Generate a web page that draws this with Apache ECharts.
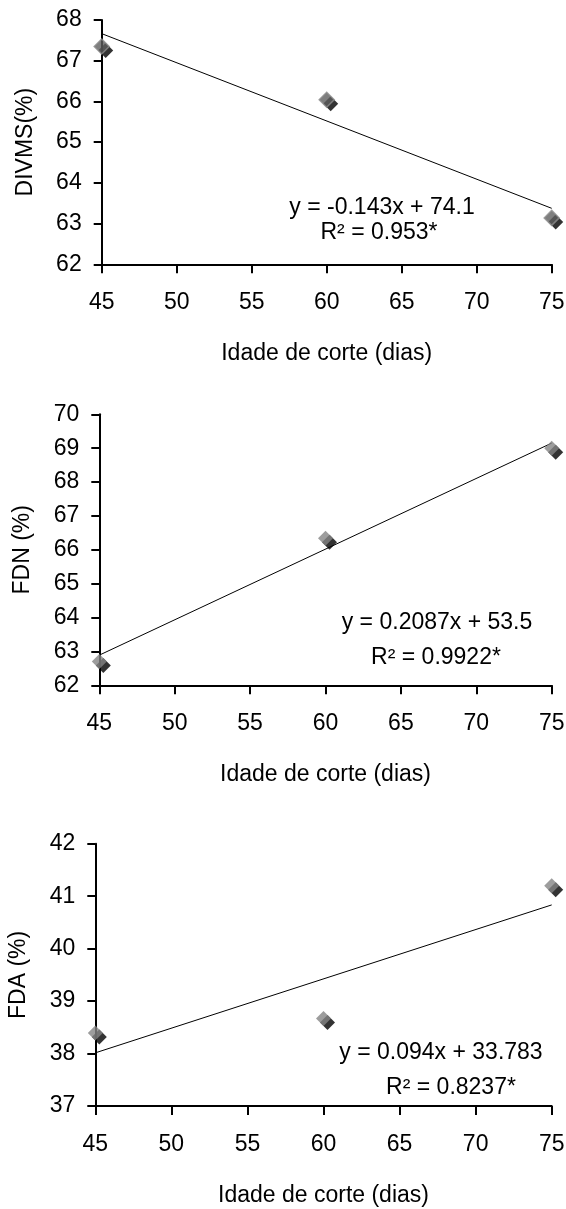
<!DOCTYPE html>
<html>
<head>
<meta charset="utf-8">
<script src="https://cdn.jsdelivr.net/npm/echarts@6/dist/echarts.min.js"></script>
<style>
  html, body { margin: 0; padding: 0; background: #fff; }
  #chart { width: 566px; height: 1209px; }
</style>
</head>
<body>
<div id="chart"></div>
<script>
// data
const days = [45, 60, 75];
const divms = [67.35, 66.04, 63.14];
const fdn = [62.70, 66.34, 69.0];
const fda = [38.39, 38.67, 41.20];

// trend line end points (x = 45 and x = 75)
const trendX = [45, 75];
const divmsTrend = [67.665, 63.375];
const fdnTrend = [62.89, 69.15];
const fdaTrend = [38.013, 40.833];

const yNames = ['DIVMS(%)', 'FDN (%)', 'FDA (%)'];
const yRanges = [[62, 68], [62, 70], [37, 42]];
const xName = 'Idade de corte (dias)';
const equations = [
    ['y = -0.143x + 74.1', 'R² = 0.953*'],
    ['y = 0.2087x + 53.5', 'R² = 0.9922*'],
    ['y = 0.094x + 33.783', 'R² = 0.8237*']
];

const font = 'Liberation Sans, Arial, sans-serif';
const fs = 23;
const values = [divms, fdn, fda];
const trends = [divmsTrend, fdnTrend, fdaTrend];

// panel boxes (px)
const grids = [
    { left: 101.7, top: 20, width: 450, height: 244.3 },
    { left: 99.3, top: 414.3, width: 452.4, height: 271 },
    { left: 95.3, top: 843.7, width: 456.4, height: 262.3 }
];

const chart = echarts.init(document.getElementById('chart'));

const xAxes = grids.map((g, i) => ({
    type: 'value',
    gridIndex: i,
    min: 45,
    max: 75,
    interval: 5,
    name: xName,
    nameLocation: 'middle',
    nameGap: 78,
    nameTextStyle: { color: '#000', fontSize: fs, fontFamily: font },
    axisLine: { onZero: false, lineStyle: { color: '#000', width: 2 } },
    axisTick: { length: 9, lineStyle: { color: '#000', width: 2 } },
    axisLabel: { color: '#000', fontSize: fs, fontFamily: font, margin: 27 },
    splitLine: { show: false }
}));

const yAxes = grids.map((g, i) => ({
    type: 'value',
    gridIndex: i,
    min: yRanges[i][0],
    max: yRanges[i][1],
    interval: 1,
    name: yNames[i],
    nameLocation: 'middle',
    nameGap: 65,
    nameTextStyle: { color: '#000', fontSize: fs, fontFamily: font },
    axisLine: { show: true, onZero: false, lineStyle: { color: '#000', width: 2 } },
    axisTick: { show: true, length: 8, lineStyle: { color: '#000', width: 2 } },
    axisLabel: { color: '#000', fontSize: fs, fontFamily: font, margin: 20 },
    splitLine: { show: false }
}));

const series = [];
values.forEach((vals, i) => {
    const pts = days.map((d, k) => [d, vals[k]]);
    series.push({
        type: 'line',
        xAxisIndex: i,
        yAxisIndex: i,
        data: trendX.map((d, k) => [d, trends[i][k]]),
        symbol: 'none',
        lineStyle: { color: '#000', width: 1 },
        silent: true,
        z: 2
    });
    // black offset copy that shows as a shadow
    series.push({
        type: 'scatter',
        xAxisIndex: i,
        yAxisIndex: i,
        data: pts,
        symbol: 'diamond',
        symbolSize: 15,
        symbolOffset: [4, 4],
        itemStyle: { color: '#000' },
        z: 3
    });
    series.push({
        type: 'scatter',
        xAxisIndex: i,
        yAxisIndex: i,
        data: pts,
        symbol: 'diamond',
        symbolSize: 15,
        itemStyle: i === 0
            ? { color: '#5e5e5e', borderColor: '#8c8c8c', borderWidth: 1.5 }
            : { color: '#858585' },
        z: 4
    });
});

// regression equations
const eqPos = [
    [[382, 208], [379, 233]],
    [[437, 623], [436, 658]],
    [[441, 1053], [451, 1088]]
];
const graphic = [];
equations.forEach((lines, i) => {
    lines.forEach((t, k) => {
        graphic.push({
            type: 'text',
            x: eqPos[i][k][0],
            y: eqPos[i][k][1],
            style: {
                text: t,
                fill: '#000',
                font: fs + 'px ' + font,
                textAlign: 'center',
                textVerticalAlign: 'middle'
            }
        });
    });
});

chart.setOption({
    animation: false,
    backgroundColor: '#fff',
    grid: grids.map(g => Object.assign({ outerBoundsMode: 'none', containLabel: false }, g)),
    xAxis: xAxes,
    yAxis: yAxes,
    series: series,
    graphic: graphic
});
</script>
</body>
</html>
